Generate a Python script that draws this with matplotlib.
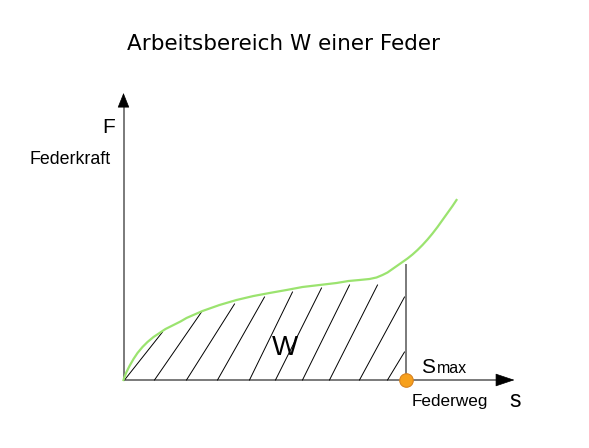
import matplotlib
matplotlib.use("Agg")
import matplotlib.pyplot as plt

# spring characteristic, units = screen pixels from the origin
curve_s = [0, 1, 3, 6, 10, 14, 19, 24, 30, 36, 42, 50, 57, 63, 79, 96, 113, 130, 146, 163,
           179, 196, 213, 225, 236, 246, 253, 259, 264, 269, 274, 279, 284, 289, 294, 299,
           304, 309, 314, 319, 324, 329, 333]
curve_F = [0, 3, 8, 14, 21, 27, 33, 38, 43, 47, 51, 55, 58.5, 62, 69, 75, 80, 84, 87, 90,
           93, 95, 97, 99, 100, 101, 102.5, 105, 107.5, 111, 114.5, 118, 121.5, 125.5, 130, 135,
           140.5, 146.5, 153, 160, 167, 174, 180]

# hatch strokes under the curve (bottom on the s axis, top at the curve / s_max)
hatch_bottom = [1, 31, 63, 94, 126, 152, 179, 206, 236, 264]
hatch_top_s = [39, 78, 111, 141, 169, 198, 226, 254, 281, 281]
hatch_top_F = [48, 68, 76, 83, 88, 92, 95, 95, 83, 28]

s_max = 282
F_at_smax = 115

title = "Arbeitsbereich W einer Feder"
arial = ["Liberation Sans", "DejaVu Sans"]

figure = plt.figure(figsize=(5.89, 4.48), dpi=100)
axis = figure.add_axes([0, 0, 1, 1])
axis.set_xlim(-123.5, 465.5)
axis.set_ylim(-68, 380)
axis.axis("off")

# axes: gray shafts with black arrow heads
axis.plot([0, 374], [0, 0], color="#7a7a7a", lw=1.4, solid_capstyle="butt")
axis.plot([0, 0], [0, 275], color="#7a7a7a", lw=1.4, solid_capstyle="butt")
axis.annotate("", xy=(391, 0), xytext=(373, 0),
              arrowprops=dict(arrowstyle="-|>,head_length=1.25,head_width=0.42",
                              color="black", lw=0.5, shrinkA=0, shrinkB=0))
axis.annotate("", xy=(0, 287), xytext=(0, 274),
              arrowprops=dict(arrowstyle="-|>,head_length=0.95,head_width=0.38",
                              color="black", lw=0.5, shrinkA=0, shrinkB=0))

for bottom, top_s, top_F in zip(hatch_bottom, hatch_top_s, hatch_top_F):
    axis.plot([bottom, top_s], [0, top_F], color="black", lw=0.7)

axis.plot([s_max, s_max], [0, F_at_smax], color="#7a7a7a", lw=1.4)
axis.plot(curve_s, curve_F, color="#9be36f", lw=1.6, solid_joinstyle="round")
axis.scatter([s_max], [0], s=95, color="#f7a01c", edgecolors="#d8821f", linewidths=0.8, zorder=5)

axis.text(160, 330, title, fontsize=15.5, family="DejaVu Sans", ha="center", va="baseline")
axis.text(-21, 247, "F", fontsize=15, family=arial, ha="left", va="baseline")
axis.text(-94, 216, "Federkraft", fontsize=12.8, family=arial, ha="left", va="baseline")
axis.text(161, 32, "W", fontsize=20, family=arial, ha="center", va="center")
axis.text(298, 7, "S", fontsize=15, family=arial, ha="left", va="baseline")
axis.text(313, 7, "max", fontsize=11.5, family=arial, ha="left", va="baseline")
axis.text(288, -26, "Federweg", fontsize=12.3, family=arial, ha="left", va="baseline")
axis.text(386, -27, "s", fontsize=16.5, family=arial, ha="left", va="baseline")

figure.savefig("out.png", dpi=100)
